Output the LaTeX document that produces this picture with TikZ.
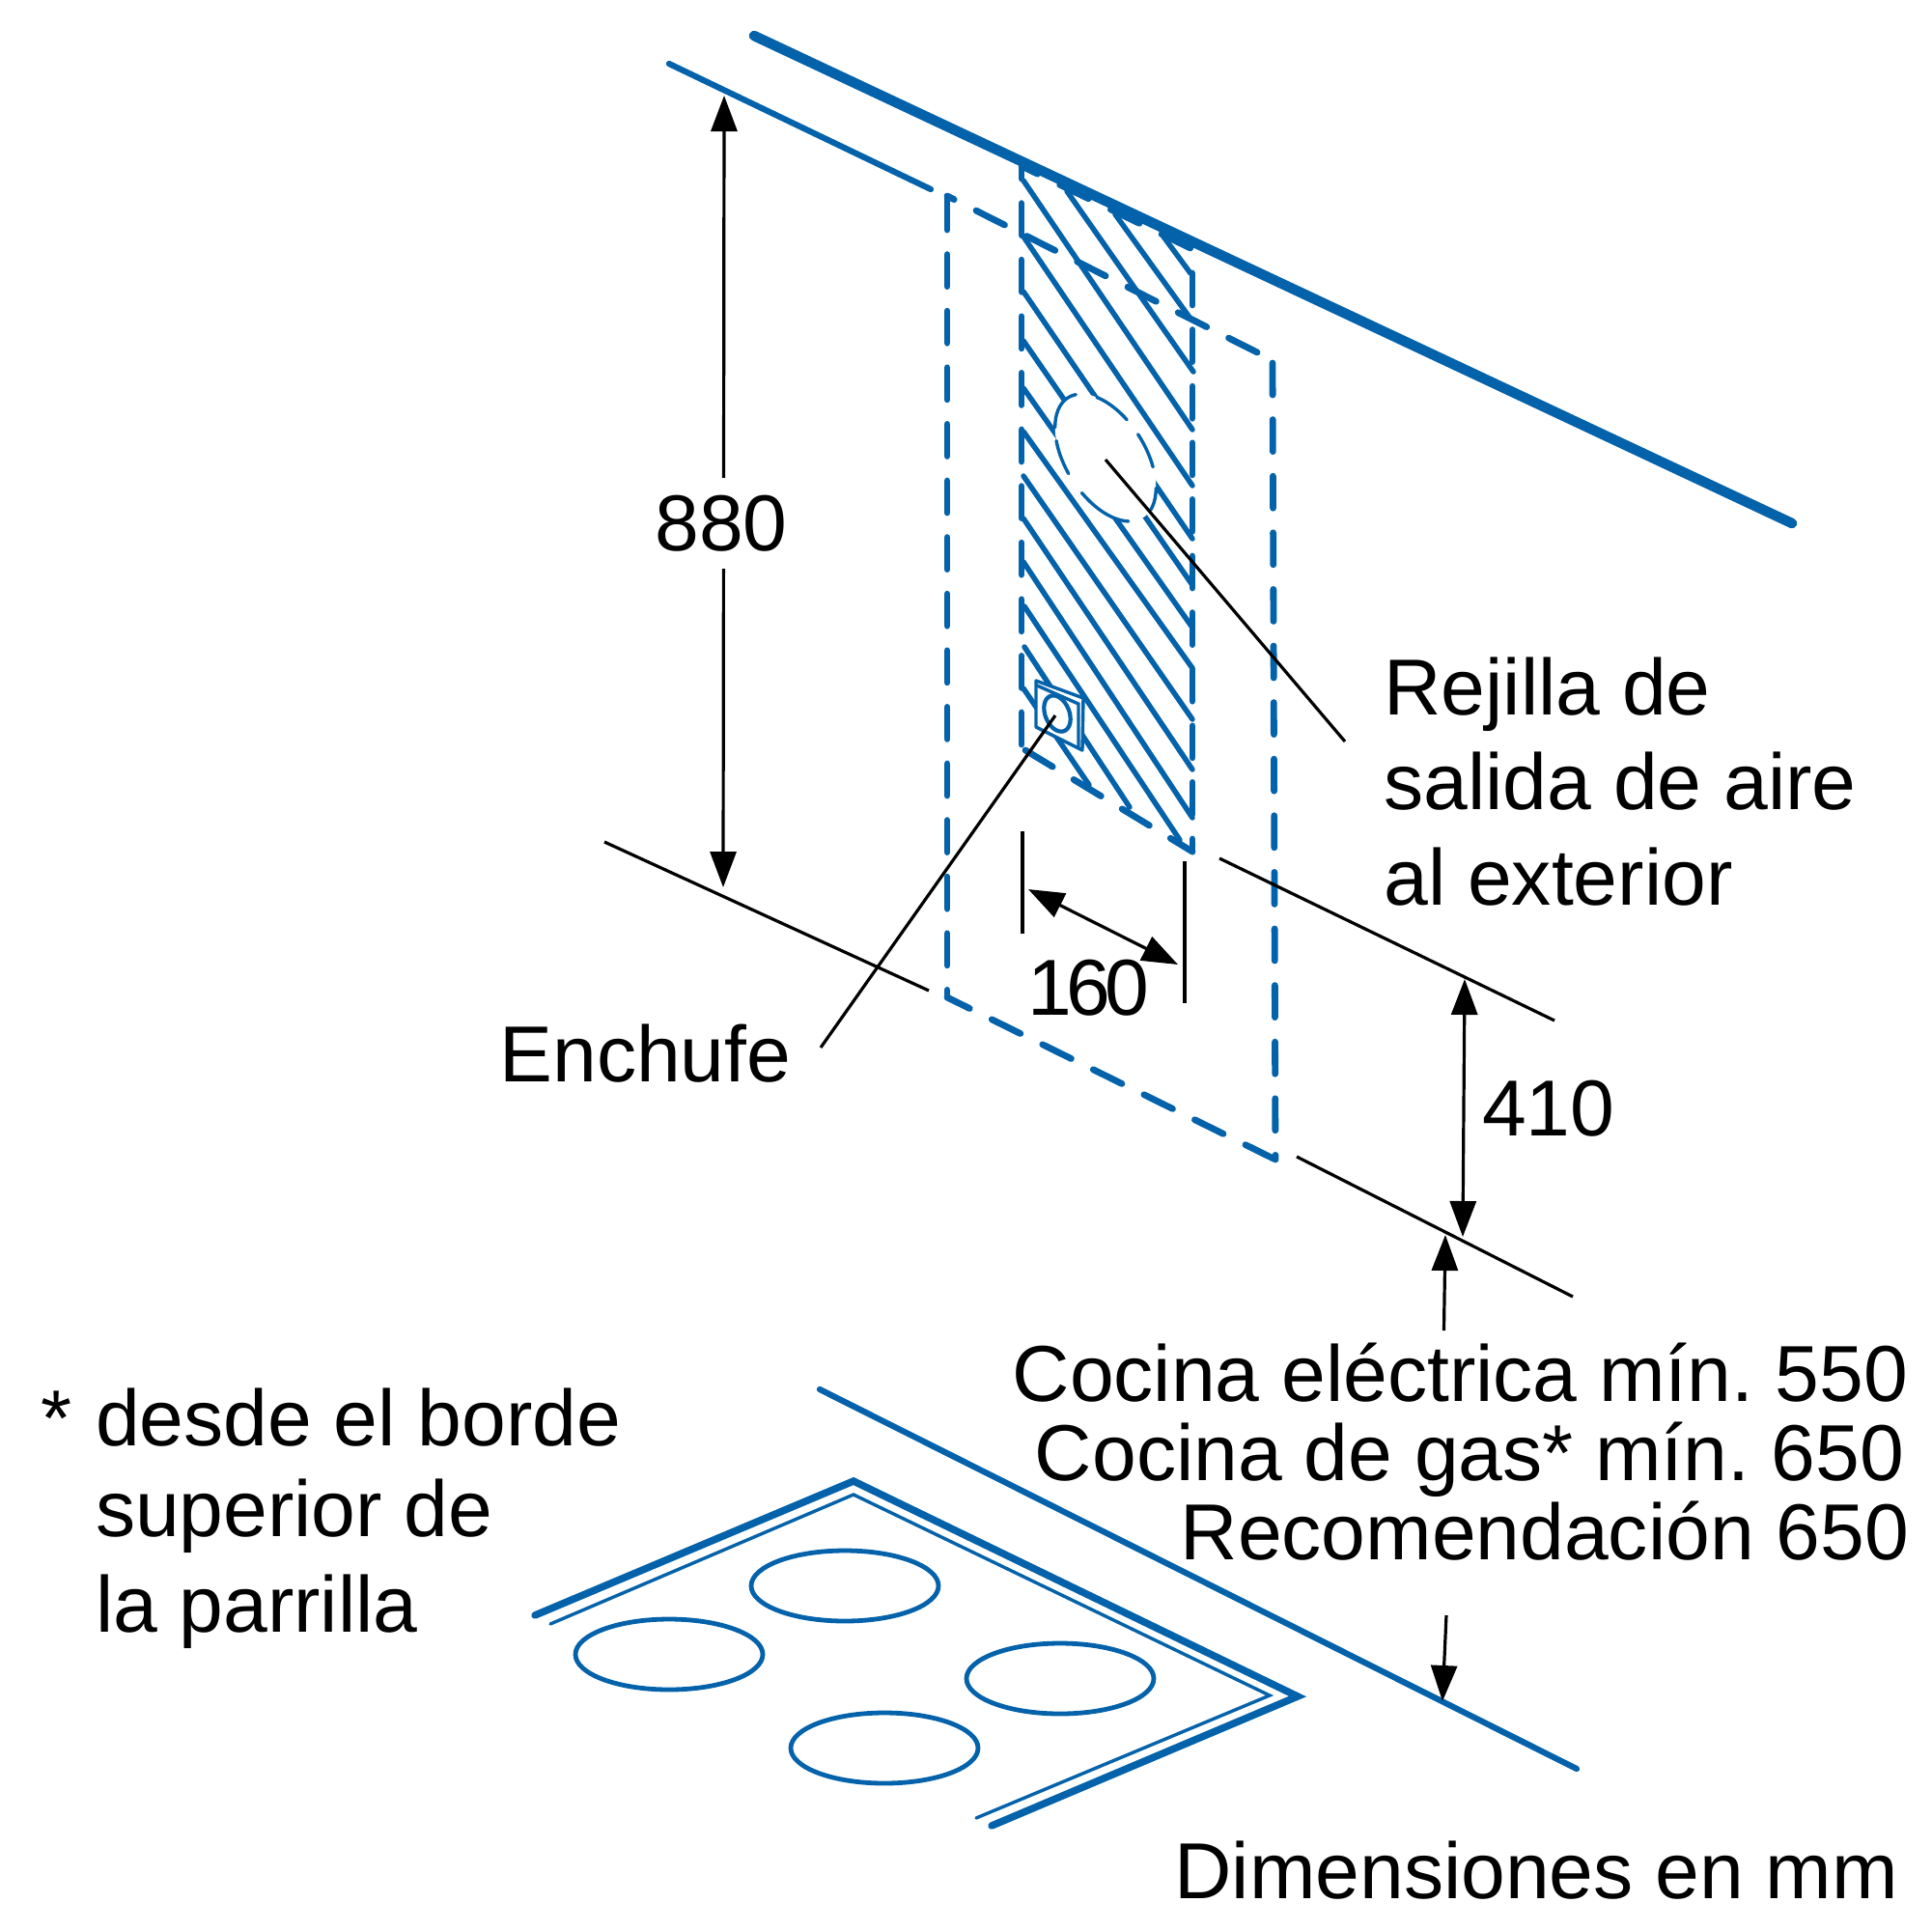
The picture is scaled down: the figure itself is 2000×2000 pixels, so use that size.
\documentclass[tikz,border=0pt]{standalone}
\usepackage{fontspec}
\setmainfont{Liberation Sans}
\usetikzlibrary{arrows.meta}
\definecolor{bsh}{RGB}{3,98,170}
\tikzset{
  thickblue/.style={draw=bsh,line width=1.05mm,line cap=round},
  midblue/.style={draw=bsh,line width=0.62mm,line cap=round,line join=miter},
  hatchline/.style={draw=bsh,line width=0.55mm,line cap=round},
  dashblue/.style={draw=bsh,line width=0.68mm,line cap=round,dash pattern=on 3.3mm off 2.56mm},
  thinblue/.style={draw=bsh,line width=0.34mm,line cap=round},
  blk/.style={draw=black,line width=0.32mm},
  dim/.style={blk,{Triangle[length=3.7mm,width=2.7mm]}-{Triangle[length=3.7mm,width=2.7mm]}},
  dimone/.style={blk,-{Triangle[length=3.7mm,width=2.7mm]}},
  lbl/.style={inner sep=0pt,outer sep=0pt,text=black,font=\fontsize{23.4}{28}\selectfont},
}
\begin{document}
\begin{tikzpicture}[x=0.1mm,y=-0.1mm]
\useasboundingbox (0,0) rectangle (2000,2000);
% hatch
\foreach \a/\b/\c/\d in {1060/187/1235/445,1060/245/1235/503,1060/302/1235/558,1060/353/1235/606,1060/402/1235/650,1060/447/1235/692,1060/493/1235/745,1060/537/1235/797,1060/582/1235/847,1105/198/1236/385,1155/222/1233/330,1205/245/1233/283,1061/628/1222/870,1061/670/1170/836,1060/713/1128/813}
  \draw[hatchline] (\a,\b) -- (\c,\d);
% duct hole
\fill[white,domain=0:360,samples=73] plot ({1145+52.3*cos(\x)},{474+31.4*cos(\x)+58*sin(\x)}) -- cycle;
\foreach \s/\e in {180/234,260/295,310/340,0/27,63/118,137/167}
  \draw[thinblue,domain=\s:\e,samples=12] plot ({1145+52.3*cos(\x)},{474+31.4*cos(\x)+58*sin(\x)});
% socket
\fill[white] (1073,705) -- (1122,723) -- (1121,777) -- (1073,753) -- cycle;
\draw[thinblue,line join=round] (1073,705) -- (1122,723) -- (1121,777) -- (1073,753) -- cycle;
\draw[thinblue] (1074,710) -- (1117,729) -- (1117,774);
\draw[thinblue,line width=0.42mm] (1095,739) ellipse [x radius=12.5,y radius=19.5,rotate=22];
% walls
\coordinate (wallA) at (781,37);
\coordinate (wallB) at (1856,542);
\coordinate (ceilA) at (693,66);
\coordinate (ceilB) at (964,196);
\draw[thickblue] (wallA) -- (wallB);
\draw[midblue] (ceilA) -- (ceilB);
% big dashed rectangle
\coordinate (rTL) at (981,203);
\coordinate (rTR) at (1318,373);
\coordinate (rBL) at (981,1033);
\coordinate (rBR) at (1321,1201);
\draw[dashblue,dash phase=2.5mm] (rTL) -- (rTR);
\draw[dashblue] (981,205) -- (rBL);
\draw[dashblue,dash phase=0.7mm] (rBL) -- (rBR);
\draw[dashblue] (1318,376) -- (rBR);
% hatched zone outline
\coordinate (hTL) at (1058,172);
\coordinate (hTR) at (1235,258);
\coordinate (hBL) at (1062,777);
\coordinate (hBR) at (1235,882);
\draw[dashblue,dash phase=1.45mm] (hTL) -- (hTR);
\draw[dashblue,dash phase=2mm] (hTL) -- (1058,775);
\draw[dashblue] (1235,283) -- (hBR);
\draw[dashblue] (hBL) -- (hBR);
% hob
\coordinate (oA) at (554,1673);
\coordinate (oB) at (884,1534);
\coordinate (oC) at (1344,1757);
\coordinate (oD) at (1027,1891);
\coordinate (iA) at (570,1682);
\coordinate (iB) at (884,1548);
\coordinate (iC) at (1315,1756);
\coordinate (iD) at (1011,1883);
\draw[draw=bsh,line width=0.75mm,line cap=round,line join=miter] (oA) -- (oB) -- (oC) -- (oD);
\draw[thinblue,line join=miter] (iA) -- (iB) -- (iC) -- (iD);
\foreach \cx/\cy in {693/1713.5,875/1642.5,1098/1738.5,916/1810.5}
  \draw[draw=bsh,line width=0.48mm] (\cx,\cy) ellipse [x radius=97,y radius=36.5];
\coordinate (hobA) at (849,1439);
\coordinate (hobB) at (1633,1832);
\draw[midblue] (hobA) -- (hobB);
% thin reference lines
\coordinate (la) at (626,872);
\coordinate (lb) at (962,1026);
\coordinate (lc) at (1263,889);
\coordinate (ld) at (1610,1057);
\coordinate (le) at (1343,1198);
\coordinate (lf) at (1629,1343);
\draw[blk] (la) -- (lb);
\draw[blk] (lc) -- (ld);
\draw[blk] (le) -- (lf);
\coordinate (ta) at (1059,861);
\coordinate (tb) at (1059,967);
\coordinate (tc) at (1227,892);
\coordinate (td) at (1227,1039);
\draw[blk] (ta) -- (tb);
\draw[blk] (tc) -- (td);
% leaders
\node[lbl,anchor=base west] (rej1) at (1433.5,740) {Rejilla de};
\node[lbl,anchor=base west] (rej2) at (1433.5,838) {salida de aire};
\node[lbl,anchor=base west] (rej3) at (1433.5,937) {al exterior};
\node[lbl,anchor=base west] (ench) at (517.5,1120) {Enchufe};
\coordinate (holeP) at (1145,476);
\coordinate (holeE) at (1393,768);
\coordinate (sockP) at (1093,741);
\coordinate (sockE) at (850,1085);
\draw[blk] (holeP) -- (holeE);
\draw[blk] (sockP) -- (sockE);
% dimensions
\coordinate (d880a) at (750,99);
\coordinate (d880b) at (749,919);
\draw[dim] (d880a) -- (d880b);
\node[lbl,fill=white,inner xsep=2pt,inner ysep=5pt] (t880) at (747,542) {880};
\coordinate (d160a) at (1065,921);
\coordinate (d160b) at (1220,999);
\draw[dim] (d160a) -- (d160b);
\node[lbl,anchor=base] (t160) at (1127.5,1051) {1\kern-0.07em 6\kern-0.07em 0};
\coordinate (d410a) at (1517,1014);
\coordinate (d410b) at (1515,1281);
\draw[dim] (d410a) -- (d410b);
\node[lbl,anchor=base west] (t410) at (1535,1176) {410};
\coordinate (up1) at (1495.5,1378);
\coordinate (up2) at (1497,1279);
\coordinate (dn1) at (1498,1673);
\coordinate (dn2) at (1494,1762);
\draw[dimone] (up1) -- (up2);
\draw[dimone] (dn1) -- (dn2);
% texts
\node[lbl,anchor=base east] (coc1) at (1976,1451) {Cocina eléctrica mín.\kern-0.1em{} 550};
\node[lbl,anchor=base east] (coc2) at (1972,1533) {Cocina de gas* mín.\kern-0.1em{} 650};
\node[lbl,anchor=base east] (coc3) at (1977,1615.5) {Recomendación 650};
\node[lbl,anchor=base east] (dimen) at (1966,1966) {Dimensiones en mm};
\node[lbl,anchor=base west] (star) at (43,1497) {*};
\node[lbl,anchor=base west] (des1) at (99,1497) {desde el borde};
\node[lbl,anchor=base west] (des2) at (99,1591) {superior de};
\node[lbl,anchor=base west] (des3) at (99,1690) {la parrilla};
\end{tikzpicture}
\end{document}
